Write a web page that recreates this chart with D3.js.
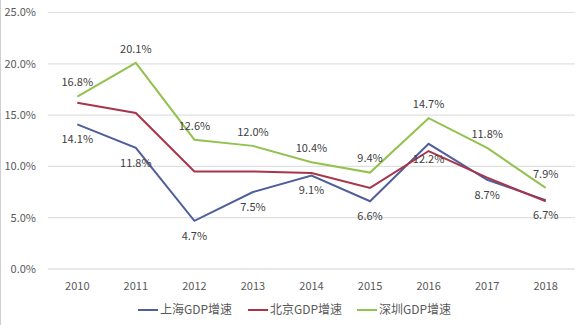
<!DOCTYPE html>
<html><head><meta charset="utf-8">
<script src="https://cdn.jsdelivr.net/npm/d3@7"></script>
<style>body{margin:0;background:#fff}svg{display:block}text{font-family:"Noto Sans CJK SC","Noto Sans",sans-serif}</style>
</head><body><svg id="c" width="584" height="325"></svg>
<script>
const years = ["2010","2011","2012","2013","2014","2015","2016","2017","2018"];
const shanghai = [14.1, 11.8, 4.7, 7.5, 9.1, 6.6, 12.2, 8.7, 6.7];
const beijing  = [16.2, 15.2, 9.5, 9.5, 9.35, 7.9, 11.5, 8.9, 6.6];
const shenzhen = [16.8, 20.1, 12.6, 12.0, 10.4, 9.4, 14.7, 11.8, 7.9];
const yTicks = [0, 5, 10, 15, 20, 25];
const seriesNames = ["上海GDP增速", "北京GDP增速", "深圳GDP增速"];
const colors = ["#4f5f9c", "#a8354a", "#93c24f"];

const svg = d3.select("#c");
const x = d3.scaleBand().domain(years).range([48, 575]).padding(0);
const y = d3.scaleLinear().domain([0, 25]).range([269, 12.5]);
const cx = d => x(d) + x.bandwidth()/2;

// gridlines
svg.append("g").selectAll("line").data(yTicks).join("line")
  .attr("x1", 48).attr("x2", 575)
  .attr("y1", d => y(d)).attr("y2", d => y(d))
  .attr("stroke", d => d===0 ? "#cfcfcf" : "#e0e0e0").attr("stroke-width", 1.2);

// y labels
svg.append("g").selectAll("text").data(yTicks).join("text")
  .attr("x", 36).attr("y", d => y(d)).attr("dy", "0.35em")
  .attr("text-anchor", "end").attr("font-size", 11).attr("fill", "#595959")
  .text(d => d.toFixed(1) + "%");

// x labels
svg.append("g").selectAll("text").data(years).join("text")
  .attr("x", d => cx(d)).attr("y", 286).attr("dy", "0.35em")
  .attr("text-anchor", "middle").attr("font-size", 11).attr("fill", "#595959")
  .text(d => d);

const line = d3.line().x((d,i) => cx(years[i])).y(d => y(d));
const allSeries = [shanghai, beijing, shenzhen];
allSeries.forEach((s, k) => {
  svg.append("path").datum(s).attr("d", line)
    .attr("fill", "none").attr("stroke", colors[k]).attr("stroke-width", 2)
    .attr("stroke-linejoin", "miter");
});

// labels: shanghai below, shenzhen above
svg.append("g").selectAll("text").data(shanghai).join("text")
  .attr("x", (d,i) => cx(years[i])).attr("y", d => y(d) + 15).attr("dy", "0.35em")
  .attr("text-anchor", "middle").attr("font-size", 11).attr("fill", "#404040")
  .text(d => d.toFixed(1) + "%");
svg.append("g").selectAll("text").data(shenzhen).join("text")
  .attr("x", (d,i) => cx(years[i])).attr("y", d => y(d) - 14).attr("dy", "0.35em")
  .attr("text-anchor", "middle").attr("font-size", 11).attr("fill", "#404040")
  .text(d => d.toFixed(1) + "%");

// legend
const legX = [138, 248, 357];
const lg = svg.append("g");
seriesNames.forEach((n, k) => {
  lg.append("line").attr("x1", legX[k]).attr("x2", legX[k] + 20)
    .attr("y1", 310).attr("y2", 310).attr("stroke", colors[k]).attr("stroke-width", 2);
  lg.append("text").attr("x", legX[k] + 22).attr("y", 310).attr("dy", "0.35em")
    .attr("font-size", 12).attr("fill", "#595959").text(n);
});

// light frame at left edge
svg.append("line").attr("x1", 0.5).attr("x2", 0.5).attr("y1", 0).attr("y2", 325)
  .attr("stroke", "#d0d0d0").attr("stroke-width", 1);
</script></body></html>
